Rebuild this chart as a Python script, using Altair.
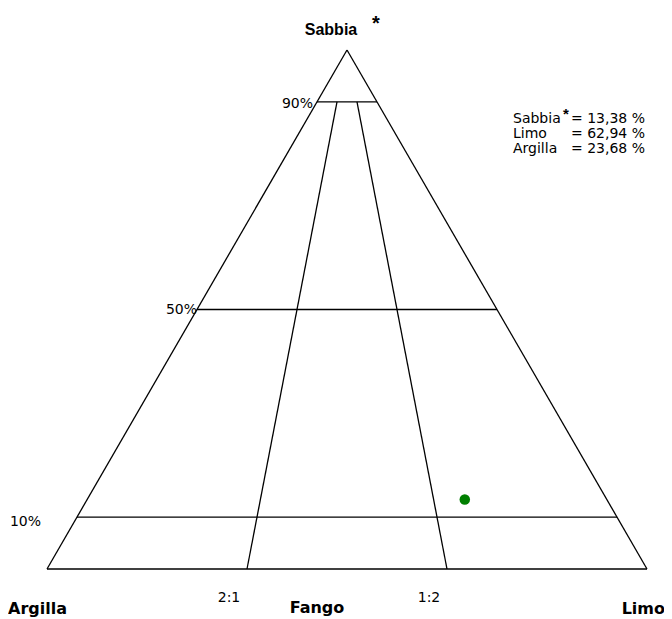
import altair as alt
import pandas as pd

# ---- data ----
sample_names = ["Sabbia", "Limo", "Argilla"]
sample_values = [13.38, 62.94, 23.68]          # % sand, silt, clay
sand_levels = [0.10, 0.50, 0.90]               # horizontal class lines
level_labels = ["10%", "50%", "90%"]
ratio_silt_fraction = [1 / 3, 2 / 3]           # clay:silt = 2:1 and 1:2
ratio_labels = ["2:1", "1:2"]
corner_labels = ["Argilla", "Fango", "Limo"]


def tern(sand, silt):
    """ternary (sand apex, clay left, silt right) -> cartesian (x, y)"""
    return silt + sand / 2.0, sand


segs = []
for (s1, si1), (s2, si2) in [((0, 0), (0, 1)), ((0, 0), (1, 0)), ((1, 0), (0, 1))]:
    x1, y1 = tern(s1, si1)
    x2, y2 = tern(s2, si2)
    segs.append(dict(x=x1, y=y1, x2=x2, y2=y2))
for s in sand_levels:
    x1, y1 = tern(s, 0)
    x2, y2 = tern(s, 1 - s)
    segs.append(dict(x=x1, y=y1, x2=x2, y2=y2))
top = max(sand_levels)
for f in ratio_silt_fraction:
    x1, y1 = tern(0, f)
    x2, y2 = tern(top, (1 - top) * f)
    segs.append(dict(x=x1, y=y1, x2=x2, y2=y2))
seg_df = pd.DataFrame(segs)

px, py = tern(sample_values[0] / 100, sample_values[1] / 100)
pt_df = pd.DataFrame({"x": [px], "y": [py]})

xs = alt.Scale(domain=[0, 1], range=[39, 639])
ys = alt.Scale(domain=[0, 1], range=[561, 42])

lines = alt.Chart(seg_df).mark_rule(color="black", strokeWidth=1.3).encode(
    x=alt.X("x:Q", scale=xs, axis=None),
    y=alt.Y("y:Q", scale=ys, axis=None),
    x2="x2:Q",
    y2="y2:Q",
)

point = alt.Chart(pt_df).mark_point(filled=True, color="#007f00", size=110, opacity=1).encode(
    x=alt.X("x:Q", scale=xs, axis=None),
    y=alt.Y("y:Q", scale=ys, axis=None),
)

REG = "DejaVu Sans"


def label(text, x, y, size=14, bold=False, align="left", font=REG):
    return alt.Chart(pd.DataFrame({"t": [text]})).mark_text(
        font=font, fontSize=size, fontWeight="bold" if bold else "normal",
        align=align, baseline="alphabetic", color="black",
    ).encode(text="t:N", x=alt.value(x), y=alt.value(y))


layers = [lines, point]
# apex title
layers.append(label("Sabbia", 323, 27, size=16, bold=True, align="center", font="Liberation Sans"))
layers.append(label("*", 368, 22, size=20, bold=True, align="center", font="Liberation Sans"))
# level labels
lvl_pos = {"10%": (33, 518), "50%": (189, 306), "90%": (305, 100)}
for lab in level_labels:
    x, y = lvl_pos[lab]
    layers.append(label(lab, x, y, align="right"))
# ratio labels
rat_pos = {"2:1": (221, 594), "1:2": (421, 594)}
for lab in ratio_labels:
    x, y = rat_pos[lab]
    layers.append(label(lab, x, y, align="center"))
# corner labels
corner_pos = {"Argilla": (0, 606, "left"), "Fango": (309, 605, "center"), "Limo": (657, 606, "right")}
for lab in corner_labels:
    x, y, a = corner_pos[lab]
    layers.append(label(lab, x, y, size=16, bold=True, align=a))
# legend
for i, (n, v) in enumerate(zip(sample_names, sample_values)):
    yy = 115 + i * 15
    layers.append(label(n, 505, yy, size=14))
    layers.append(label("= " + f"{v:.2f}".replace(".", ",") + " %", 563, yy, size=14))
layers.append(label("*", 558, 111, size=15, bold=True, align="center", font="Liberation Sans"))

chart = alt.layer(*layers).properties(
    width=656, height=611, autosize=alt.AutoSizeParams(type="none"), padding=0
).configure_view(stroke=None)

chart.save("out.html", embed_options={"renderer": "svg", "actions": False})
